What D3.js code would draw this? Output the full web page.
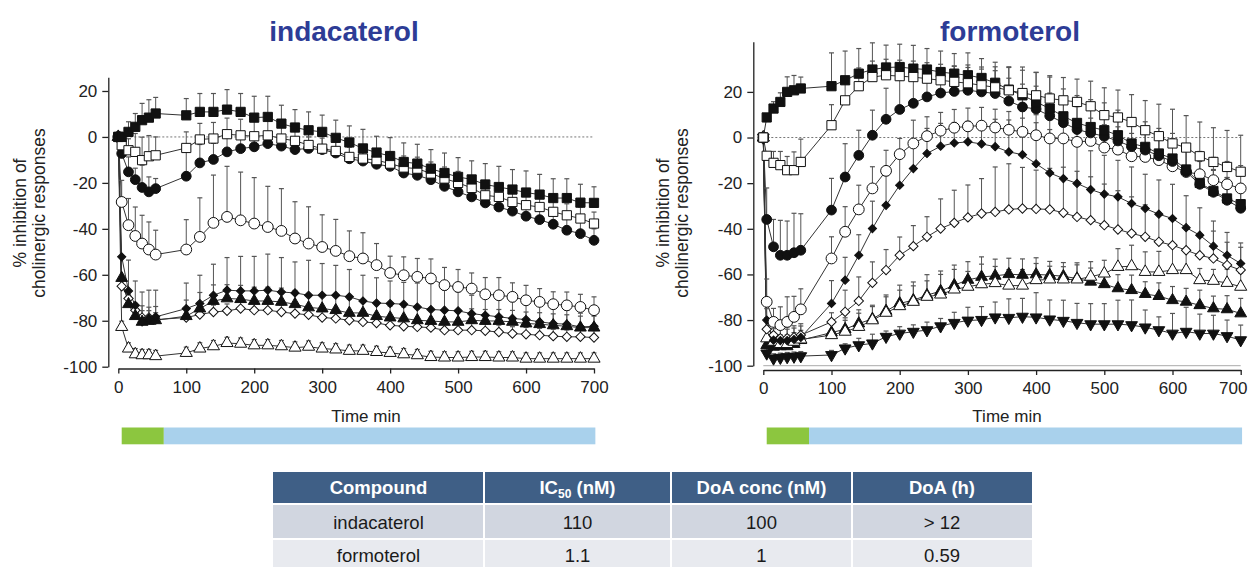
<!DOCTYPE html>
<html><head><meta charset="utf-8">
<script src="https://cdn.jsdelivr.net/npm/d3@7"></script>
<style>body{margin:0;background:#fff;} svg{display:block;font-family:Arial,"Liberation Sans",sans-serif;}</style>
</head><body><svg id="c" width="1250" height="567"></svg>
<script>
// ---------- data ----------
const times = [0,5,15,25,35,45,55,100,120,140,160,180,200,220,240,260,280,300,320,340,360,380,400,420,440,460,480,500,520,540,560,580,600,620,640,660,680,700];
const xTicks = [0,100,200,300,400,500,600,700];
const yTicks = [-100,-80,-60,-40,-20,0,20];
const titles = ["indacaterol","formoterol"];
const yLabelLines = ["% inhibition of","cholinergic responses"];
const xLabel = "Time min";
const phaseStart = [5, 67];
const phaseEnd = [67, 702];

// indacaterol
const indaFilledSquare = [0,0,2.2,4.4,7.3,8.4,10.2, 9.4,10.9,10.9,11.9,10.9,8.4,8.7,5.8,4.1,2.9, 2.2,-0.4,-2.4,-5.0,-6.8,-8.3,-10.9,-11.6,-13.8,-15.7, -17.4,-18.5,-20.7,-21.8,-22.9,-24.2,-25.1,-26.6,-26.6,-28.6, -28.7];
const indaFilledSquareErr = [0,0,4.4,5.8,7.3,7.8,7, 7.3,8,8,8.7,8,9.3,9,8,7.8,8, 7.3,7.7,7.2,8.3,7.1,8,8.3,8.4,8.3,8.7, 8.4,8.1,9.1,9,8.7,9.4,8.8,8.4,8.4,8, 7];
const indaOpenSquare = [0,-3.6,-5.8,-6.5,-10.1,-8.4,-8, -4.8,-1.1,-0.7,1.2,0.7,0.3,0.7,-0.7,-1.7,-3.5, -5.1,-6.1,-8.7,-9.4,-10.1,-11.6,-13.3,-13.8,-15.9,-18.1, -20,-22.2,-25.4,-26.1,-28.3,-29.7,-30.5,-32.6,-34.1,-35.5, -37.7];
const indaOpenSquareErr = [0,3,5,8,10,9,8, 7,7,7,7,7,7,7,7,7,6, 6,6,5,5,5,5,5,5,5,5, 5,5,5,5,5,5,5,5,5,5, 5];
const indaFilledCircle = [0,-7.2,-15.2,-18.6,-22,-23.9,-22.5, -17.1,-11.3,-9.8,-6.5,-5.1,-4.3,-2.9,-4,-5.5,-5, -5.5,-7,-9.5,-10.5,-11.9,-12.8,-15.7,-16.7,-18.6,-21.5, -23.9,-26.1,-28.7,-30.5,-32.3,-34.5,-36,-38,-40.6,-42.1, -45];
const indaFilledCircleErr = [0,4,6.5,5,9.7,6.5,4.4, 10.6,8,7,6,5,5,5,5,5,5, 5,5,5,5,5,5,5,5,5,5, 5,5,5,5,5,5,5,5,5,5, 5];
const indaOpenCircle = [0,-28.3,-38.4,-43.1,-46.4,-49,-51.2, -49,-43.5,-37.4,-34.8,-36.3,-37.7,-39.2,-40.9,-44.2,-46.4, -47.9,-49.6,-51.9,-52.9,-55.8,-59.2,-60.2,-60.9,-61.6,-64.5, -65.3,-66,-68.5,-68.9,-69.6,-71.1,-71.8,-72.8,-73.3,-74, -75.4];
const indaOpenCircleErr = [0,9.4,11.6,12.6,12.3,12,10.6, 13,17,20.8,22,21,20,17.7,18.4,16,16, 14,13.7,11,11.2,9.4,7.3,8,8,8.5,7.7, 7.6,6.8,7.3,7.7,6.1,6.5,5.8,5.4,5.8,5.5, 5.8];
const indaFilledDiamond = [0,-52.2,-67,-73.3,-80.5,-79,-78.3, -74.7,-72.5,-68.9,-66.7,-67,-67,-66.7,-67.5,-67.9,-68.9, -68.9,-68.9,-69.6,-71.4,-72.3,-72.5,-72.8,-74,-75.1,-75.4, -75.7,-76.9,-77.6,-78.3,-79,-79.5,-80.5,-81.2,-81.5,-82.7, -82.4];
const indaFilledDiamondErr = [0,0,13.4,10.6,13,12.3,11.6, 11.1,12.3,13.5,14.2,15,15,15.7,15,13.5,15.2, 13.8,13,11.9,11.2,11,9.8,9.5,10.4,11.3,8.7, 8.3,8,7.5,7.5,7.3,7,7.3,6.5,6,6, 6];
const indaFilledTriangle = [0,-61.4,-72.8,-78,-80.5,-80.1,-79.8, -78,-74.7,-71.4,-70.3,-70.6,-71.4,-71.4,-71.8,-72.8,-74.2, -74.7,-75.4,-76.6,-76.6,-78,-78.6,-79,-79.8,-80.1,-80.5, -80.5,-79.8,-80.1,-80.1,-80.5,-81.2,-81.5,-82,-82.4,-83, -83];
const indaFilledTriangleErr = [0,0,6,5,7,6,6, 7,7,7,6,6,6,6,6,6,6, 6,6,6,5,5,5,5,5,5,5, 5,5,5,5,5,5,5,5,5,5, 5];
const indaOpenDiamond = [0,-65,-70.3,-75.4,-78.6,-78.6,-79.5, -78.6,-77.3,-76.2,-75.7,-74.7,-75.4,-75.4,-76.2,-76.9,-77.4, -78.6,-79,-79.8,-80.5,-81,-82,-82.4,-82.7,-83,-84.1, -84.1,-84.1,-84.4,-84.9,-85.6,-85.9,-86.3,-86.7,-87,-87, -87.3];
const indaOpenDiamondErr = [0,3,3,3,3,3,3, 3,3,3,3,3,3,3,3,3,3, 3,3,3,3,3,3,3,3,3,3, 3,3,3,3,3,3,3,3,3,3, 3];
const indaOpenTriangle = [0,-82.7,-92.1,-94.6,-95,-95,-95.4, -94,-92.1,-91.1,-89.7,-90,-90.7,-90.7,-91.1,-91.7,-91.3, -92.1,-92.5,-93.1,-93.1,-93.6,-94,-94.6,-95,-95.8,-96, -96,-95.8,-95.8,-96,-96,-96.5,-96.5,-96.5,-96.5,-96.5, -96.5];
const indaOpenTriangleErr = [0,2.5,2.5,2.5,2.5,2.5,2.5, 2.5,2.5,2.5,2.5,2.5,2.5,2.5,2.5,2.5,2.5, 2.5,2.5,2.5,2.5,2.5,2.5,2.5,2.5,2.5,2.5, 2.5,2.5,2.5,2.5,2.5,2.5,2.5,2.5,2.5,2.5, 2.5];

// formoterol
const formFilledSquare = [0,8.8,12.7,15.6,20,20.7,21.5, 22.5,25.1,28,29.8,30.7,30.9,30.2,29.8,28.7,28, 27.3,26.1,24,21,18.5,15.6,12.7,9.3,6.4,4.6, 3.2,1,-2.6,-4.1,-7,-9.2,-14,-19.9,-23.4,-26.7, -29.2];
const formFilledSquareErr = [0,0,3,4,6.6,6.5,5, 14.6,12.8,11,11.7,9.8,10,10.2,9.2,9.2,8.8, 9.8,8.5,9,10,12.4,13,13.8,12,12,12, 12,11,11,11,11,11,10,10,9,9, 9];
const formOpenSquare = [0,-8,-11.1,-12.1,-14.3,-14.3,-10.7, 5.4,16.3,22.5,26.5,27.3,26.9,26.5,25.8,25.1,24.4, 23.8,22.9,22,20.7,19.5,18.5,17.1,16.3,15.6,13.7, 9.8,8.8,6.8,3.2,0.6,-2.6,-4.4,-8.2,-10.7,-12.9, -15];
const formOpenSquareErr = [0,0,5,6,6,8,10, 9,9,8,7,7,7,7,7,7,7, 8,8,9,10,10,10,10,10,10,11, 12,12,12,13,14,15,14,15,15,16, 16];
const formFilledCircle = [0,-35.9,-47.9,-51.6,-51.6,-50.5,-49.4, -31.8,-17.3,-7.8,1,8,12.3,15,17.8,19.5,20.2, 20.7,20,19.3,16,13.4,12.5,9.5,6.5,3.5,2, 0.5,-1.5,-4,-5.5,-8,-10.5,-15,-20.5,-24,-27.5, -31];
const formFilledCircleErr = [0,13.8,12,15.3,15,17.3,16, 13.9,14.6,11,11,13.6,12.8,12,12,11,11, 10,10,10,10,10,10,10,10,10,10, 10,10,10,10,10,10,10,10,10,10, 10];
const formOpenCircle = [0,-72,-80.8,-82.2,-80.8,-78.6,-75.3, -53,-41.3,-31.5,-22.3,-14.6,-7.3,-2.6,0.6,3,4.3, 4.9,5.2,4.4,3.4,2.5,1,-0.4,-0.4,-1.9,-1.5, -4.4,-5.3,-8.2,-8.5,-9.9,-12.6,-15.1,-16.1,-18.7,-20.5, -22.3];
const formOpenCircleErr = [0,10,5.9,8,11,9,9, 9.5,11,10.6,9.5,9,6.9,10.2,8.5,8,8, 8,8,8,8,9,9,9,10,10,10, 10,10,10,10,10,10,10,10,10,10, 10];
const formFilledDiamond = [0,-80,-88.8,-89,-89,-88.5,-87.6, -72.7,-62.5,-51.6,-39.9,-29.7,-20.9,-13.6,-7,-3.8,-2.4, -1.9,-2.8,-4,-6.3,-7.5,-11.5,-15.5,-18,-20.1,-22.8, -24.8,-26,-28.9,-31.1,-33.6,-35.5,-39.5,-42.8,-47.6,-51.6, -55.2];
const formFilledDiamondErr = [0,5,5,5,5,5,5, 10,10,9,12,13,12,12,11,10,9, 9,10,12,14,16,18,19,18,17,17, 17,16,16,15,15,15,14,12,11,10, 9];
const formOpenDiamond = [0,-84,-86.6,-88,-88,-87.5,-86.6, -80.8,-76.4,-71.6,-63.7,-58.1,-51.6,-47.6,-43.5,-39.9,-37.4, -35,-33.3,-32.6,-31.5,-31.1,-31.3,-31.5,-33,-34.8,-36.2, -38.4,-40.3,-42,-43.5,-45.7,-47.2,-49.4,-51.6,-53,-55.9, -58.1];
const formOpenDiamondErr = [0,5,5,5,5,5,5, 4,9.5,10.5,9.2,9,8,9,8.8,13,14.3, 14.2,15.3,19.7,20,18,17,18,20,20,19, 18,17,16,14,12,11,10,9,12,10, 10];
const formOpenTriangle = [0,-88,-89.5,-90.5,-90.5,-89.5,-88.5, -86.6,-85.1,-83,-80.1,-76.8,-73.9,-72,-69.8,-68.8,-66.6, -65.4,-64.3,-63.8,-64.9,-64.9,-62.5,-62.2,-62.2,-62.2,-61, -59.6,-56.7,-56.4,-58.9,-58.9,-58.1,-58.1,-62.5,-62.8,-63.7, -65.4];
const formOpenTriangleErr = [0,4,4,4,4,4,4, 5,5,6,6,7,7,7,7,8.8,8.8, 6.7,8.8,7.3,7,7,7.3,5.8,5.6,7.3,6.6, 5.8,8,9.2,8.8,9,11,9.5,5.1,5,6, 6];
const formFilledTriangle = [0,-91,-91.7,-91.5,-91.5,-90.5,-88.8, -85.5,-84,-81.5,-79.5,-76,-72.7,-71.3,-69.1,-67.3,-64.7, -62.4,-61.1,-60.6,-59.9,-60.2,-60,-60.3,-60.8,-61.8,-63.2, -64.3,-66.1,-66.9,-68.6,-69.5,-71.3,-72,-73.5,-74.9,-75.3, -77.1];
const formFilledTriangleErr = [0,3,3,3,3,3,3, 5,5,6,6,7,8,8,9,8.8,8.8, 8,8.8,7.3,7,7,7.3,6,6,6,6, 6,6,6.6,5.4,5.8,6,5.9,6.6,5.4,6, 6.6];
const formInvTriangle = [0,-94.6,-96.8,-96.5,-96.2,-96,-95.8, -95.3,-92.4,-91,-90.2,-87.3,-85.9,-85.1,-84.4,-82.7,-81.2, -80.2,-79.9,-78.8,-79,-78.5,-78.8,-79.7,-80.3,-81.2,-81.8, -81.8,-81.8,-82.2,-83.2,-84.4,-85.9,-85.1,-85.9,-85.9,-87, -88.8];
const formInvTriangleErr = [0,2,2,2,2,2,2, 2,2,3,4,2.5,3,3,3.5,3.4,4.6, 5.8,5.8,6.7,8.3,8,10.8,8.5,9,8.5,9, 9,10.5,11,7.6,5.8,8.8,10.7,8.5,8,7, 6.6];

// table
const tableHeader = ["Compound","IC50 (nM)","DoA conc (nM)","DoA (h)"];
const tableRows = [["indacaterol","110","100","> 12"],["formoterol","1.1","1","0.59"]];

// ---------- styles ----------
const markerStyles = {
  filledSquare:{type:d3.symbolSquare,size:85,fill:"#111",rot:0},
  openSquare:{type:d3.symbolSquare,size:85,fill:"#fff",rot:0},
  filledCircle:{type:d3.symbolCircle,size:75,fill:"#111",rot:0},
  openCircle:{type:d3.symbolCircle,size:92,fill:"#fff",rot:0},
  filledDiamond:{type:d3.symbolSquare,size:34,fill:"#111",rot:45},
  openDiamond:{type:d3.symbolSquare,size:44,fill:"#fff",rot:45},
  filledTriangle:{type:d3.symbolTriangle,size:60,fill:"#111",rot:0},
  openTriangle:{type:d3.symbolTriangle,size:64,fill:"#fff",rot:0},
  invTriangle:{type:d3.symbolTriangle,size:60,fill:"#111",rot:180}
};

const svg = d3.select("#c");
svg.append("rect").attr("width",1250).attr("height",567).attr("fill","#fff");

function panel(cfg){
  const x = d3.scaleLinear().domain([0,700]).range(cfg.xr);
  const y = d3.scaleLinear().domain(cfg.yd).range(cfg.yr);
  const g = svg.append("g");

  g.append("line").attr("x1",x(0)).attr("x2",x(700)).attr("y1",y(0)).attr("y2",y(0))
    .attr("stroke","#777").attr("stroke-width",1).attr("stroke-dasharray","2,2");
  if(cfg.hundredLine){
    g.append("line").attr("x1",x(0)).attr("x2",x(700)).attr("y1",y(-100)).attr("y2",y(-100))
      .attr("stroke","#aaa").attr("stroke-width",1);
  }

  const ya = g.append("g").attr("transform",`translate(${cfg.axisX},0)`)
    .call(d3.axisLeft(y).tickValues(yTicks).tickFormat(d=>String(d)).tickSize(6).tickSizeOuter(0).tickPadding(5));
  const xa = g.append("g").attr("transform",`translate(0,${cfg.xAxisY})`)
    .call(d3.axisBottom(x).tickValues(xTicks).tickFormat(d=>String(d)).tickSize(5).tickSizeOuter(0).tickPadding(7));
  [ya,xa].forEach(a=>{
    a.selectAll("path,line").attr("stroke","#222").attr("stroke-width",1.3);
    a.selectAll("text").attr("font-size",17).attr("fill","#222").attr("font-family",'Arial,"Liberation Sans",sans-serif');
  });
  if(cfg.lastTickShift){
    xa.selectAll(".tick").filter(d=>d===700).select("text").attr("dx",cfg.lastTickShift);
  }

  yLabelLines.forEach((t,i)=>{
    g.append("text").attr("transform",`translate(${cfg.ylx[i]},${cfg.yly}) rotate(-90)`)
      .attr("text-anchor","middle").attr("dy","0.35em").attr("font-size",17.5).attr("fill","#222").text(t);
  });
  g.append("text").attr("x",cfg.xlx).attr("y",421.5).attr("text-anchor","middle")
    .attr("font-size",17).attr("fill","#222").text(xLabel);
  g.append("text").attr("x",cfg.tx).attr("y",41).attr("text-anchor","middle")
    .attr("font-size",28).attr("font-weight","bold").attr("fill","#2d3c96").text(cfg.title);

  g.append("rect").attr("x",x(phaseStart[0])).attr("width",x(phaseEnd[0])-x(phaseStart[0]))
    .attr("y",427.5).attr("height",16.8).attr("fill","#8cc63f");
  g.append("rect").attr("x",x(phaseStart[1])).attr("width",x(phaseEnd[1])-x(phaseStart[1]))
    .attr("y",427.5).attr("height",16.8).attr("fill","#a9d1ec");

  const line = d3.line().x((d,i)=>x(times[i])).y(d=>y(d));
  cfg.series.forEach(s=>{
    g.append("path").attr("d",line(s.v)).attr("fill","none").attr("stroke","#333").attr("stroke-width",1);
  });
  cfg.series.forEach(s=>{
    s.v.forEach((v,i)=>{
      const e = s.e[i]; if(!e) return;
      const xx = x(times[i]);
      g.append("line").attr("x1",xx).attr("x2",xx).attr("y1",y(v)).attr("y2",y(v+e)).attr("stroke","#555").attr("stroke-width",1);
      g.append("line").attr("x1",xx-2.5).attr("x2",xx+2.5).attr("y1",y(v+e)).attr("y2",y(v+e)).attr("stroke","#555").attr("stroke-width",1.2);
    });
  });
  cfg.series.forEach(s=>{
    const st = markerStyles[s.kind];
    const sym = d3.symbol().type(st.type).size(st.size);
    g.append("g").selectAll("path").data(s.v).join("path")
      .attr("d",sym)
      .attr("transform",(d,i)=>`translate(${x(times[i])},${y(d)}) rotate(${st.rot})`)
      .attr("fill",st.fill).attr("stroke","#111").attr("stroke-width",1);
  });
}

panel({
  xr:[118.3,594], yd:[-100,26], yr:[366.7,77.2], axisX:108.3, xAxisY:368.5,
  ylx:[20,38.5], yly:213, xlx:366, tx:344, title:titles[0], hundredLine:false, lastTickShift:0,
  series:[
    {v:indaOpenTriangle,e:indaOpenTriangleErr,kind:"openTriangle"},
    {v:indaOpenDiamond,e:indaOpenDiamondErr,kind:"openDiamond"},
    {v:indaFilledTriangle,e:indaFilledTriangleErr,kind:"filledTriangle"},
    {v:indaFilledDiamond,e:indaFilledDiamondErr,kind:"filledDiamond"},
    {v:indaOpenCircle,e:indaOpenCircleErr,kind:"openCircle"},
    {v:indaFilledCircle,e:indaFilledCircleErr,kind:"filledCircle"},
    {v:indaOpenSquare,e:indaOpenSquareErr,kind:"openSquare"},
    {v:indaFilledSquare,e:indaFilledSquareErr,kind:"filledSquare"}
  ]
});
panel({
  xr:[763.3,1240.7], yd:[-100,42], yr:[365.7,41.7], axisX:753.3, xAxisY:370,
  ylx:[663,682], yly:213, xlx:1007, tx:1010, title:titles[1], hundredLine:true, lastTickShift:-8,
  series:[
    {v:formInvTriangle,e:formInvTriangleErr,kind:"invTriangle"},
    {v:formFilledTriangle,e:formFilledTriangleErr,kind:"filledTriangle"},
    {v:formOpenTriangle,e:formOpenTriangleErr,kind:"openTriangle"},
    {v:formOpenDiamond,e:formOpenDiamondErr,kind:"openDiamond"},
    {v:formFilledDiamond,e:formFilledDiamondErr,kind:"filledDiamond"},
    {v:formOpenCircle,e:formOpenCircleErr,kind:"openCircle"},
    {v:formFilledCircle,e:formFilledCircleErr,kind:"filledCircle"},
    {v:formFilledSquare,e:formFilledSquareErr,kind:"filledSquare"},
    {v:formOpenSquare,e:formOpenSquareErr,kind:"openSquare"}
  ]
});

// ---------- table ----------
const colX = [273,484,671,852,1032];
const rowY = [472,505,540];
const rowH = [31,33,27];
const textY = [488,523,555.5];
const rowFill = ["#3f5f86","#d1d6e0","#e8eaef"];
const tg = svg.append("g");
[tableHeader].concat(tableRows).forEach((row,r)=>{
  row.forEach((cell,c)=>{
    tg.append("rect").attr("x",colX[c]+(c?1:0)).attr("y",rowY[r])
      .attr("width",colX[c+1]-colX[c]-(c?1:0)-(c<3?1:0)).attr("height",rowH[r]).attr("fill",rowFill[r]);
    const cx = (colX[c]+colX[c+1])/2;
    const t = tg.append("text").attr("x",cx).attr("y",textY[r]).attr("dy","0.35em").attr("text-anchor","middle")
      .attr("font-size",18.5).attr("fill",r===0?"#fff":"#1a1a1a").attr("font-weight",r===0?"bold":"normal");
    if(r===0 && cell.startsWith("IC50")){
      t.append("tspan").text("IC");
      t.append("tspan").attr("font-size",12).attr("dy","4").text("50");
      t.append("tspan").attr("dy","-4").text(" (nM)");
    } else t.text(cell);
  });
});
</script></body></html>
